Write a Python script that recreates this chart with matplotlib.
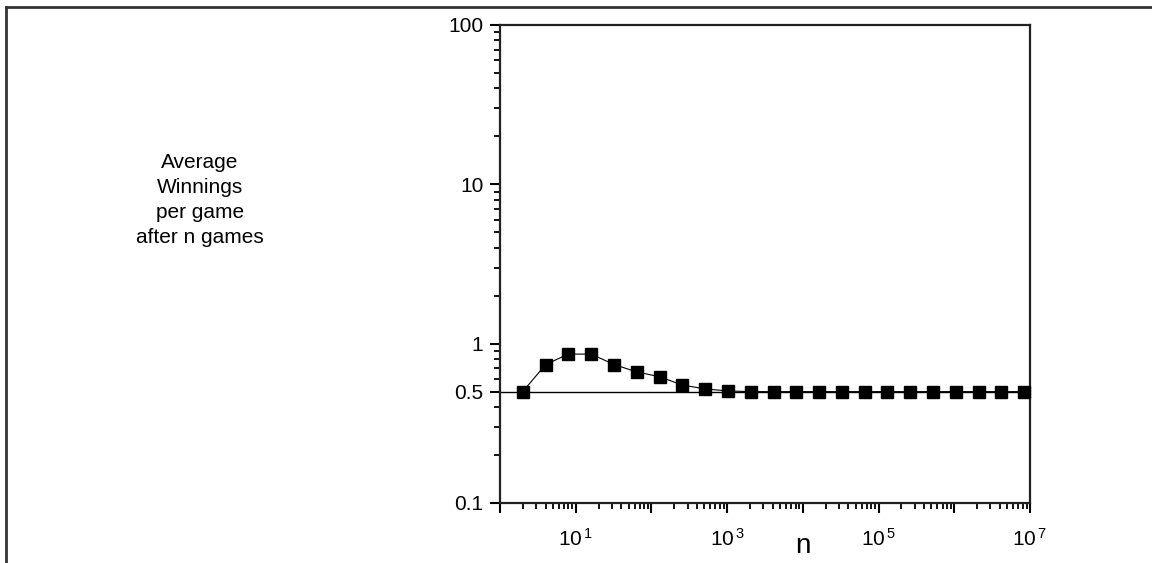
import numpy as np
import matplotlib
matplotlib.use('Agg')
import matplotlib.pyplot as plt
from matplotlib.lines import Line2D
from matplotlib.ticker import LogLocator, FixedLocator, FixedFormatter, NullFormatter

# data: n doubles each game block
n_games = [2**k for k in range(1, 24)]
avg_win = [0.5, 0.74, 0.86, 0.86, 0.74, 0.665, 0.62, 0.55, 0.52, 0.505,
           0.5, 0.5, 0.5, 0.5, 0.5, 0.5, 0.5, 0.5, 0.5, 0.5, 0.5, 0.5, 0.5]
ref_level = 0.5

y_ticks = [0.1, 0.5, 1, 10, 100]
y_labels = ['0.1', '0.5', '1', '10', '100']
x_ticks = [1e1, 1e3, 1e5, 1e7]
x_labels = [r'$\mathregular{10^{\,1}}$', r'$\mathregular{10^{\,3}}$',
            r'$\mathregular{10^{\,5}}$', r'$\mathregular{10^{\,7}}$']

tick_font = ['Liberation Sans Narrow', 'Liberation Sans', 'DejaVu Sans']
text_font = ['Liberation Sans', 'DejaVu Sans']

fig = plt.figure(figsize=(11.52, 5.63), dpi=100)

# outer frame (top and left edges only)
fig.add_artist(Line2D([6 / 1152, 6 / 1152], [0, 1 - 7 / 563], transform=fig.transFigure,
                      color='#333333', lw=2))
fig.add_artist(Line2D([6 / 1152, 1], [1 - 7 / 563, 1 - 7 / 563], transform=fig.transFigure,
                      color='#333333', lw=2))

ax = fig.add_axes([500 / 1152, 1 - 503 / 563, 530 / 1152, 478 / 563])
ax.set_xscale('log')
ax.set_yscale('log')
ax.set_xlim(1, 1e7)
ax.set_ylim(0.1, 100)

ax.axhline(ref_level, color='black', lw=1)
ax.plot(n_games, avg_win, color='black', lw=0.8, marker='s', markersize=9,
        clip_on=False, zorder=3)

for s in ax.spines.values():
    s.set_linewidth(1.6)
    s.set_color('#222222')

ax.yaxis.set_major_locator(FixedLocator(y_ticks))
ax.yaxis.set_major_formatter(FixedFormatter(y_labels))
ax.yaxis.set_minor_locator(LogLocator(base=10, subs=np.arange(2, 10)))
ax.yaxis.set_minor_formatter(NullFormatter())

ax.xaxis.set_major_locator(FixedLocator([10.0**k for k in range(0, 8)]))
ax.xaxis.set_major_formatter(NullFormatter())
ax.xaxis.set_minor_locator(LogLocator(base=10, subs=np.arange(2, 10)))
ax.xaxis.set_minor_formatter(NullFormatter())

ax.tick_params(which='major', length=7, width=1.5, direction='out')
ax.tick_params(which='minor', length=4, width=1.3, direction='out')
ax.tick_params(axis='y', labelsize=15, pad=5)
for lab in ax.get_yticklabels():
    lab.set_family(tick_font)

# x tick labels drawn as text so "n" can sit in place of 10^4
for xv, lab in zip(x_ticks, x_labels):
    ax.text(xv, -0.075, lab, transform=ax.get_xaxis_transform(), ha='center', va='center',
            fontsize=15, family=tick_font)
ax.text(1e4, -0.09, 'n', transform=ax.get_xaxis_transform(), ha='center', va='center',
        fontsize=20, family=text_font)

fig.text(200 / 1152, 1 - 200 / 563, 'Average\nWinnings\nper game\nafter n games',
         ha='center', va='center', fontsize=15, family=text_font, linespacing=1.38)

fig.savefig('out.png', dpi=100)
